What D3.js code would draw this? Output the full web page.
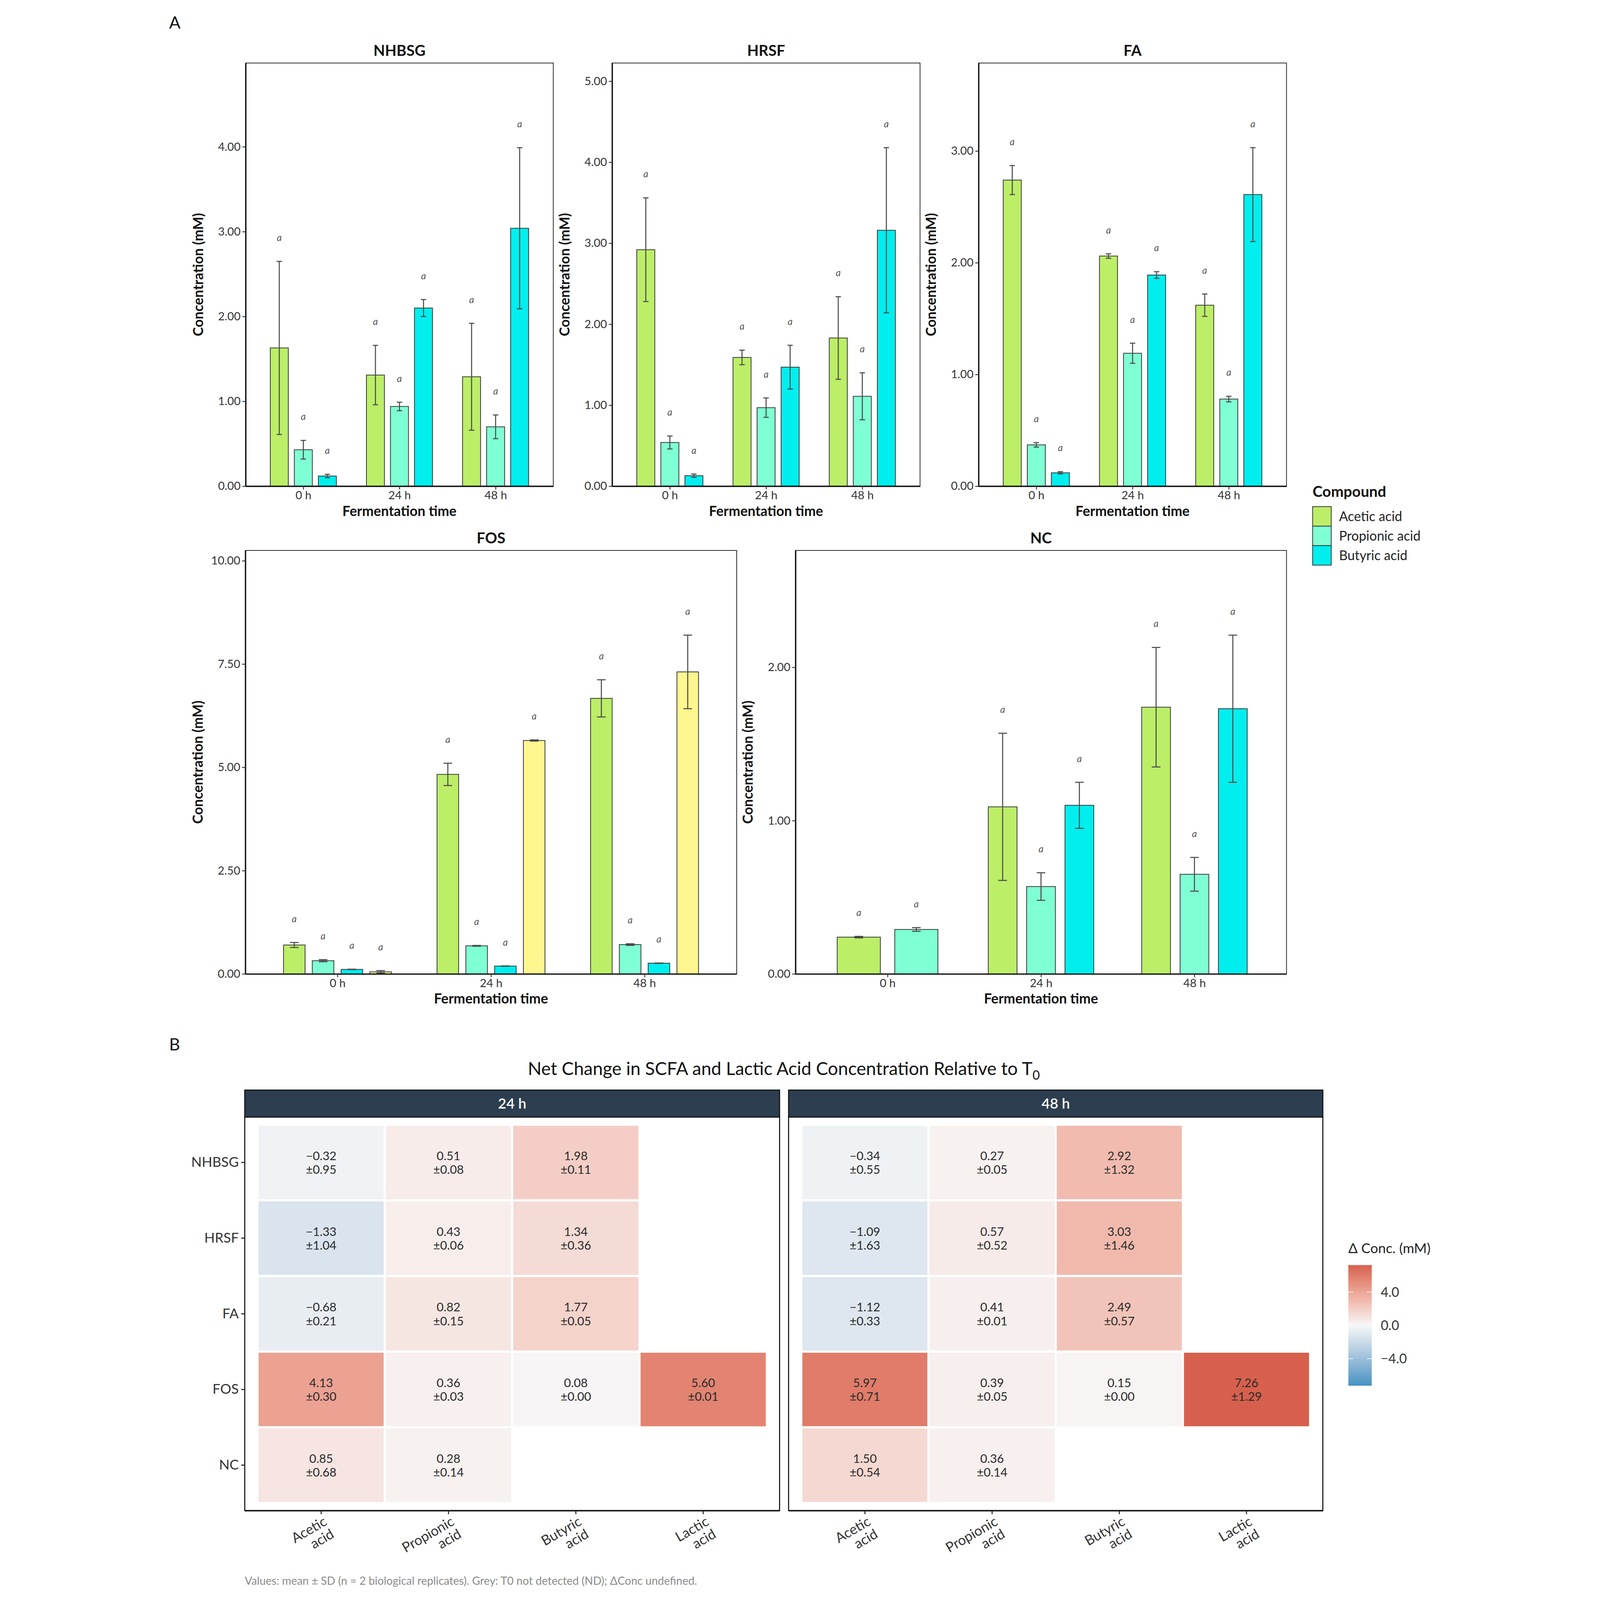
<!DOCTYPE html>
<html>
<head>
<meta charset="utf-8">
<script src="https://cdn.jsdelivr.net/npm/d3@7"></script>
<style>
  html, body { margin: 0; padding: 0; background: #fff; overflow: hidden; }
  svg { display: block; width: 100vw; height: 100vh; font-family: Lato, "Open Sans", sans-serif; }
</style>
</head>
<body>
<svg id="fig"></svg>
<script>
const times = ["0 h", "24 h", "48 h"];
const compounds = ["Acetic acid", "Propionic acid", "Butyric acid", "Lactic acid"];
const compoundColors = ["#BCEE68", "#7FFFD4", "#00EEEE", "#FFF68F"];
const legendCompounds = ["Acetic acid", "Propionic acid", "Butyric acid"];

// rows follow compounds (acetic, propionic, butyric, lactic), columns follow times
const nhbsgMean = [[1.63, 1.31, 1.29], [0.43, 0.94, 0.70], [0.12, 2.10, 3.04]];
const nhbsgSd   = [[1.02, 0.35, 0.63], [0.11, 0.05, 0.14], [0.02, 0.10, 0.95]];
const nhbsgTicks = [0, 1, 2, 3, 4];

const hrsfMean = [[2.92, 1.59, 1.83], [0.54, 0.97, 1.11], [0.13, 1.47, 3.16]];
const hrsfSd   = [[0.64, 0.09, 0.51], [0.08, 0.12, 0.29], [0.02, 0.27, 1.02]];
const hrsfTicks = [0, 1, 2, 3, 4, 5];

const faMean = [[2.74, 2.06, 1.62], [0.37, 1.19, 0.78], [0.12, 1.89, 2.61]];
const faSd   = [[0.13, 0.02, 0.10], [0.02, 0.09, 0.025], [0.01, 0.03, 0.42]];
const faTicks = [0, 1, 2, 3];

const fosMean = [[0.70, 4.83, 6.67], [0.32, 0.68, 0.71], [0.11, 0.19, 0.26], [0.05, 5.65, 7.31]];
const fosSd   = [[0.06, 0.27, 0.45], [0.025, 0.01, 0.02], [0.005, 0.005, 0.005], [0.03, 0.015, 0.89]];
const fosTicks = [0, 2.5, 5, 7.5, 10];

const ncMean = [[0.24, 1.09, 1.74], [0.29, 0.57, 0.65], [null, 1.10, 1.73]];
const ncSd   = [[0.005, 0.48, 0.39], [0.012, 0.09, 0.11], [null, 0.15, 0.48]];
const ncTicks = [0, 1, 2];

// heatmap: net change relative to T0
const heatRows = ["NHBSG", "HRSF", "FA", "FOS", "NC"];
const delta24Mean = [[-0.32, 0.51, 1.98, null], [-1.33, 0.43, 1.34, null], [-0.68, 0.82, 1.77, null], [4.13, 0.36, 0.08, 5.60], [0.85, 0.28, null, null]];
const delta24Sd   = [[0.95, 0.08, 0.11, null], [1.04, 0.06, 0.36, null], [0.21, 0.15, 0.05, null], [0.30, 0.03, 0.00, 0.01], [0.68, 0.14, null, null]];
const delta48Mean = [[-0.34, 0.27, 2.92, null], [-1.09, 0.57, 3.03, null], [-1.12, 0.41, 2.49, null], [5.97, 0.39, 0.15, 7.26], [1.50, 0.36, null, null]];
const delta48Sd   = [[0.55, 0.05, 1.32, null], [1.63, 0.52, 1.46, null], [0.33, 0.01, 0.57, null], [0.71, 0.05, 0.00, 1.29], [0.54, 0.14, null, null]];
const legendTicks = [-4, 0, 4];

const W = 4284, H = 5331;
const svg = d3.select("#fig")
    .attr("viewBox", `0 0 ${W} ${H}`)
    .attr("preserveAspectRatio", "xMidYMid meet");
svg.append("rect").attr("width", W).attr("height", H).attr("fill", "#fff");

const f2 = d3.format(".2f");

class BarPanel {
    constructor(svg, title, means, sds, ticks, box) {
        this.svg = svg;
        this.title = title;
        this.means = means;
        this.sds = sds;
        this.ticks = ticks;
        this.box = box;
    }

    render() {
        const { x0, x1, y0, y1 } = this.box;
        const g = this.svg.append("g");

        let rows = [];
        this.means.forEach((row, ci) => row.forEach((m, ti) => {
            if (m != null) rows.push({ c: ci, t: ti, mean: m, sd: this.sds[ci][ti] });
        }));
        const topMax = d3.max(rows, d => d.mean + d.sd);

        this.yScale = d3.scaleLinear().domain([0, topMax * 1.25]).range([y1, y0]);
        this.xScale = d3.scalePoint().domain(times).range([x0, x1]).padding(0.6);
        const step = this.xScale.step();

        // dodge inside each time group; groups with fewer bars get wider bars
        const inner = times.map((t, ti) => {
            const cx = this.xScale(t);
            const present = rows.filter(d => d.t === ti).map(d => d.c);
            return d3.scaleBand().domain(present)
                .range([cx - 0.375 * step, cx + 0.375 * step])
                .paddingInner(0.25).paddingOuter(0.125);
        });
        rows.forEach(d => {
            const s = inner[d.t];
            d.x = s(d.c);
            d.w = s.bandwidth();
            d.cx = d.x + d.w / 2;
        });

        g.append("rect")
            .attr("x", x0).attr("y", y0)
            .attr("width", x1 - x0).attr("height", y1 - y0)
            .attr("fill", "none").attr("stroke", "#222").attr("stroke-width", 2.5);

        g.selectAll("rect.bar")
            .data(rows)
            .join("rect")
            .attr("class", "bar")
            .attr("x", d => d.x)
            .attr("y", d => this.yScale(d.mean))
            .attr("width", d => d.w)
            .attr("height", d => this.yScale(0) - this.yScale(d.mean))
            .attr("fill", d => compoundColors[d.c])
            .attr("stroke", "#333")
            .attr("stroke-width", 2.5);

        const cap = 0.028 * step;
        const err = g.selectAll("g.err")
            .data(rows)
            .join("g")
            .attr("class", "err")
            .attr("stroke", "#4d4d4d")
            .attr("stroke-width", 3.5);
        err.append("line")
            .attr("x1", d => d.cx).attr("x2", d => d.cx)
            .attr("y1", d => this.yScale(d.mean + d.sd))
            .attr("y2", d => this.yScale(Math.max(0, d.mean - d.sd)));
        err.append("line")
            .attr("x1", d => d.cx - cap).attr("x2", d => d.cx + cap)
            .attr("y1", d => this.yScale(d.mean + d.sd))
            .attr("y2", d => this.yScale(d.mean + d.sd));
        err.append("line")
            .attr("x1", d => d.cx - cap).attr("x2", d => d.cx + cap)
            .attr("y1", d => this.yScale(Math.max(0, d.mean - d.sd)))
            .attr("y2", d => this.yScale(Math.max(0, d.mean - d.sd)));

        g.selectAll("text.sig")
            .data(rows)
            .join("text")
            .attr("class", "sig")
            .attr("x", d => d.cx)
            .attr("y", d => this.yScale(d.mean + d.sd + 0.07 * topMax))
            .attr("dy", "0.35em")
            .attr("text-anchor", "middle")
            .attr("font-style", "italic")
            .attr("font-size", 32)
            .attr("fill", "#555")
            .text("a");

        const yAxis = g.append("g")
            .attr("transform", `translate(${x0},0)`)
            .call(d3.axisLeft(this.yScale).tickValues(this.ticks).tickFormat(f2).tickSize(11).tickSizeOuter(0).tickPadding(6));
        const xAxis = g.append("g")
            .attr("transform", `translate(0,${y1})`)
            .call(d3.axisBottom(this.xScale).tickSize(11).tickSizeOuter(0).tickPadding(6));
        [yAxis, xAxis].forEach(a => {
            a.attr("font-family", null).attr("font-size", null);
            a.select(".domain").attr("stroke", "#111").attr("stroke-width", 4.5);
            a.selectAll(".tick line").attr("stroke", "#333").attr("stroke-width", 3);
            a.selectAll(".tick text").attr("font-size", 38).attr("fill", "#333");
        });

        g.append("text")
            .attr("x", (x0 + x1) / 2).attr("y", y0 - 24)
            .attr("text-anchor", "middle")
            .attr("font-weight", "bold").attr("font-size", 50).attr("fill", "#111")
            .text(this.title);

        g.append("text")
            .attr("x", (x0 + x1) / 2).attr("y", y1 + 99)
            .attr("text-anchor", "middle")
            .attr("font-weight", "bold").attr("font-size", 46).attr("fill", "#111")
            .text("Fermentation time");

        g.append("text")
            .attr("transform", `translate(${x0 - 142},${(y0 + y1) / 2}) rotate(-90)`)
            .attr("text-anchor", "middle")
            .attr("font-weight", "bold").attr("font-size", 46).attr("fill", "#111")
            .text("Concentration (mM)");
    }
}

new BarPanel(svg, "NHBSG", nhbsgMean, nhbsgSd, nhbsgTicks, { x0: 295, x1: 1320, y0: 210, y1: 1620 }).render();
new BarPanel(svg, "HRSF", hrsfMean, hrsfSd, hrsfTicks, { x0: 1516, x1: 2542, y0: 210, y1: 1620 }).render();
new BarPanel(svg, "FA", faMean, faSd, faTicks, { x0: 2737, x1: 3763, y0: 210, y1: 1620 }).render();
new BarPanel(svg, "FOS", fosMean, fosSd, fosTicks, { x0: 294, x1: 1931, y0: 1834, y1: 3245 }).render();
new BarPanel(svg, "NC", ncMean, ncSd, ncTicks, { x0: 2127, x1: 3763, y0: 1834, y1: 3245 }).render();

// compound legend
const leg = svg.append("g").attr("transform", "translate(3850,1600)");
leg.append("text").attr("x", 0).attr("y", 56)
    .attr("font-weight", "bold").attr("font-size", 50).attr("fill", "#111")
    .text("Compound");
legendCompounds.forEach((c, i) => {
    leg.append("rect")
        .attr("x", 0).attr("y", 88 + i * 65)
        .attr("width", 62).attr("height", 65)
        .attr("fill", compoundColors[compounds.indexOf(c)])
        .attr("stroke", "#333").attr("stroke-width", 2.5);
    leg.append("text")
        .attr("x", 88).attr("y", 88 + i * 65 + 32.5)
        .attr("dy", "0.35em")
        .attr("font-size", 44).attr("fill", "#222")
        .text(c);
});

svg.append("text").attr("x", 40).attr("y", 95).attr("font-size", 56).attr("fill", "#111").text("A");
svg.append("text").attr("x", 40).attr("y", 3500).attr("font-size", 56).attr("fill", "#111").text("B");

// ---- heatmap ----
const lim = d3.max([delta24Mean, delta48Mean].flat(2).filter(v => v != null), v => Math.abs(v));
const fill = d3.scaleLinear()
    .domain([-lim, 0, lim])
    .range(["#4393C3", "#F7F7F7", "#D6604D"])
    .interpolate(d3.interpolateLab);

svg.append("text")
    .attr("x", 2088).attr("y", 3582)
    .attr("text-anchor", "middle")
    .attr("font-size", 60).attr("fill", "#111")
    .text("Net Change in SCFA and Lactic Acid Concentration Relative to T")
    .append("tspan").attr("font-size", 42).attr("dy", 15).text("0");

function heatPanel(label, means, sds, box, showY) {
    const { x0, x1, stripTop, stripBot, y1 } = box;
    const g = svg.append("g");

    const xs = d3.scaleBand().domain(compounds).range([x0, x1]).paddingInner(0).paddingOuter(0.1);
    const ys = d3.scaleBand().domain(heatRows).range([stripBot, y1]).paddingInner(0).paddingOuter(0.1);

    let cells = [];
    means.forEach((row, ri) => row.forEach((m, ci) => {
        if (m != null) cells.push({ r: heatRows[ri], c: compounds[ci], mean: m, sd: sds[ri][ci] });
    }));

    g.selectAll("rect.tile")
        .data(cells)
        .join("rect")
        .attr("class", "tile")
        .attr("x", d => xs(d.c)).attr("y", d => ys(d.r))
        .attr("width", xs.bandwidth()).attr("height", ys.bandwidth())
        .attr("fill", d => fill(d.mean))
        .attr("stroke", "#fff").attr("stroke-width", 7);

    const txt = g.selectAll("text.val")
        .data(cells)
        .join("text")
        .attr("class", "val")
        .attr("text-anchor", "middle")
        .attr("font-size", 40).attr("fill", "#2a2a2a")
        .attr("transform", d => `translate(${xs(d.c) + xs.bandwidth() / 2},${ys(d.r) + ys.bandwidth() / 2})`);
    txt.append("tspan").attr("x", 0).attr("y", -8).text(d => f2(d.mean));
    txt.append("tspan").attr("x", 0).attr("y", 38).text(d => "\u00b1" + f2(d.sd));

    g.append("rect")
        .attr("x", x0).attr("y", stripBot)
        .attr("width", x1 - x0).attr("height", y1 - stripBot)
        .attr("fill", "none").attr("stroke", "#111").attr("stroke-width", 3.5);

    g.append("rect")
        .attr("x", x0).attr("y", stripTop)
        .attr("width", x1 - x0).attr("height", stripBot - stripTop)
        .attr("fill", "#2C3E50").attr("stroke", "#111").attr("stroke-width", 3.5);
    g.append("text")
        .attr("x", (x0 + x1) / 2).attr("y", (stripTop + stripBot) / 2)
        .attr("dy", "0.36em")
        .attr("text-anchor", "middle")
        .attr("font-size", 48).attr("font-weight", 600).attr("fill", "#fff")
        .text(label);

    const xAxis = g.append("g")
        .attr("transform", `translate(0,${y1})`)
        .call(d3.axisBottom(xs).tickSize(12).tickSizeOuter(0).tickFormat(""));
    xAxis.select(".domain").attr("stroke", "#111").attr("stroke-width", 4.5);
    xAxis.selectAll(".tick line").attr("stroke", "#222").attr("stroke-width", 3.5);

    const lab = g.selectAll("text.xlab")
        .data(compounds)
        .join("text")
        .attr("class", "xlab")
        .attr("text-anchor", "end")
        .attr("font-size", 46).attr("fill", "#333")
        .attr("transform", d => `translate(${xs(d) + xs.bandwidth() / 2 + 22},${y1 + 46}) rotate(-30)`);
    lab.append("tspan").attr("x", 0).attr("y", 0).text(d => d.split(" ")[0]);
    lab.append("tspan").attr("x", 0).attr("y", 48).text(d => d.split(" ")[1]);

    if (showY) {
        const yAxis = g.append("g")
            .attr("transform", `translate(${x0},0)`)
            .call(d3.axisLeft(ys).tickSize(12).tickSizeOuter(0).tickPadding(8));
        yAxis.attr("font-family", null).attr("font-size", null);
        yAxis.select(".domain").remove();
        yAxis.selectAll(".tick line").attr("stroke", "#222").attr("stroke-width", 3.5);
        yAxis.selectAll(".tick text").attr("font-size", 46).attr("fill", "#333");
    }
}

heatPanel("24 h", delta24Mean, delta24Sd, { x0: 292, x1: 2074, stripTop: 3632, stripBot: 3722, y1: 5033 }, true);
heatPanel("48 h", delta48Mean, delta48Sd, { x0: 2104, x1: 3884, stripTop: 3632, stripBot: 3722, y1: 5033 }, false);

// colour bar legend
const cb = { x: 3969, y: 4215, w: 78, h: 402 };
const cbScale = d3.scaleLinear().domain([-lim, lim]).range([cb.y + cb.h, cb.y]);
const grad = svg.append("defs").append("linearGradient")
    .attr("id", "deltaGrad").attr("x1", 0).attr("x2", 0).attr("y1", 1).attr("y2", 0);
d3.range(0, 1.0001, 0.05).forEach(t => {
    grad.append("stop").attr("offset", t).attr("stop-color", fill(-lim + 2 * lim * t));
});
svg.append("text")
    .attr("x", cb.x).attr("y", cb.y - 40)
    .attr("font-size", 46).attr("fill", "#222")
    .text("\u0394 Conc. (mM)");
svg.append("rect")
    .attr("x", cb.x).attr("y", cb.y).attr("width", cb.w).attr("height", cb.h)
    .attr("fill", "url(#deltaGrad)");
legendTicks.forEach(v => {
    const y = cbScale(v);
    svg.append("line").attr("x1", cb.x).attr("x2", cb.x + 16).attr("y1", y).attr("y2", y)
        .attr("stroke", "#fff").attr("stroke-width", 2);
    svg.append("line").attr("x1", cb.x + cb.w - 16).attr("x2", cb.x + cb.w).attr("y1", y).attr("y2", y)
        .attr("stroke", "#fff").attr("stroke-width", 2);
    svg.append("text")
        .attr("x", cb.x + cb.w + 30).attr("y", y).attr("dy", "0.35em")
        .attr("font-size", 44).attr("fill", "#333")
        .text(d3.format(".1f")(v));
});

svg.append("text")
    .attr("x", 292).attr("y", 5280)
    .attr("font-size", 37).attr("fill", "#8a8a8a")
    .text("Values: mean \u00b1 SD (n = 2 biological replicates). Grey: T0 not detected (ND); \u0394Conc undefined.");
</script>
</body>
</html>
